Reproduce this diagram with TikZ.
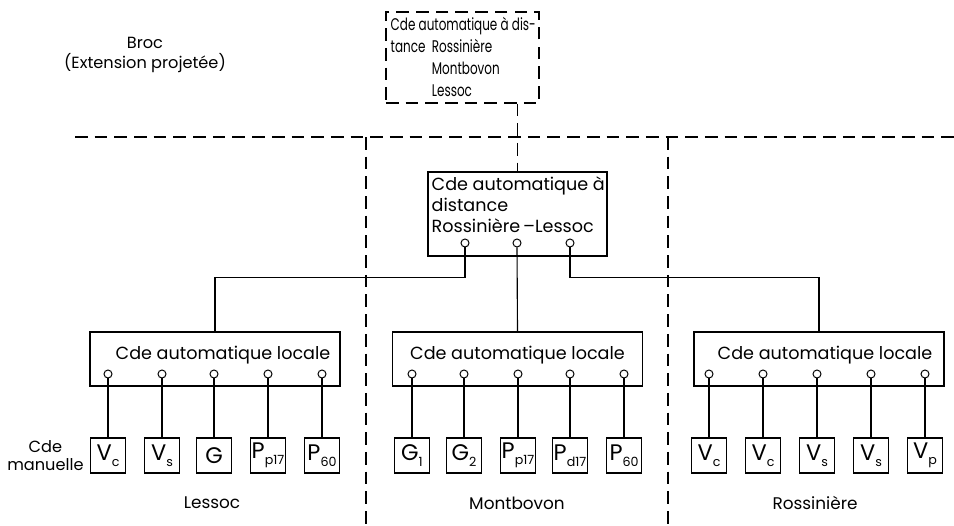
\documentclass[tikz,border=0pt]{standalone}
\usepackage{fontspec}
\setmainfont{Poppins}
\usetikzlibrary{positioning}
\newcommand{\lowidx}[1]{\raisebox{-.45ex}{\fontsize{9}{9}\selectfont #1}}
\begin{document}
\begin{tikzpicture}[x=0.025cm,y=-0.025cm, every node/.style={font=\fontsize{11.5}{14}\selectfont},
  ln/.style={line width=.8pt},
  dsh/.style={line width=.8pt,dash pattern=on 9pt off 5pt},
  bx/.style={draw,ln,inner sep=0pt,minimum width=.875cm,minimum height=.875cm,font=\fontsize{16}{16}\selectfont},
  loc/.style={draw,ln,minimum width=6.25cm,minimum height=1.35cm},
  pin/.style={draw,circle,fill=white,inner sep=0pt,minimum size=.2cm,line width=.7pt}]
  \useasboundingbox (0,0) rectangle (954,526);
  % remote control, planned extension
  \node[align=center] (broc) at (145,55) {Broc\\(Extension projetée)};
  \node[draw,dsh,minimum width=3.825cm,minimum height=2.275cm] (dist) at (462.5,57.5) {};
  \node[anchor=north west,inner sep=1pt,font=\fontsize{12}{15.5}\selectfont] (disttxt) at (389,14) {\scalebox{.71}[1]{\begin{tabular}{@{}l@{\ \ }l@{}}
    \multicolumn{2}{@{}l@{}}{Cde automatique à dis-}\\
    tance & Rossinière\\ & Montbovon\\ & Lessoc\end{tabular}}};
  % zone limits
  \coordinate (hl) at (75,137);
  \coordinate (hr) at (954,137);
  \coordinate (d1t) at (366,137);
  \coordinate (d1b) at (366,526);
  \coordinate (d2t) at (668,137);
  \coordinate (d2b) at (668,526);
  \draw[dsh] (hl) -- (hr);
  \draw[dsh] (d1t) -- (d1b);
  \draw[dsh] (d2t) -- (d2b);
  % central remote control
  \node[draw,ln,minimum width=4.475cm,minimum height=2.1cm] (cen) at (517.5,214) {};
  \node[anchor=north west,align=left,inner sep=1pt,font=\fontsize{12.5}{15}\selectfont] (centxt) at (430,175) {Cde automatique à\\distance\\Rossinière\,–Lessoc};
  \node[pin] (c1) at (465,243) {};
  \node[pin] (c2) at (517,243) {};
  \node[pin] (c3) at (570,243) {};
  \draw[dsh] (dist.south -| cen.north) -- (cen.north);
  % local control
  \node[loc] (locL) at (215,359) {};
  \node[loc] (locM) at (517.5,359) {};
  \node[loc] (locR) at (819,359) {};
  \node[font=\fontsize{12.5}{14}\selectfont] (txtL) at (223,355) {Cde automatique locale};
  \node[font=\fontsize{12.5}{14}\selectfont] (txtM) at (517.5,355) {Cde automatique locale};
  \node[font=\fontsize{12.5}{14}\selectfont] (txtR) at (825,355) {Cde automatique locale};
  \draw[ln] (c1.south) -- ++(0,30) -| (locL.north);
  \draw[ln] (c2.south) -- (locM.north);
  \draw[ln] (c3.south) -- ++(0,30) -| (locR.north);
  % manual control
  \foreach \x/\t/\n in {108/V\lowidx{c}/l1,162/V\lowidx{s}/l2,214/G/l3,268/P\lowidx{p17}/l4,322/P\lowidx{60}/l5,
      412/G\lowidx{1}/m1,464/G\lowidx{2}/m2,518/P\lowidx{p17}/m3,570/P\lowidx{d17}/m4,624/P\lowidx{60}/m5,
      709/V\lowidx{c}/r1,763/V\lowidx{c}/r2,817/V\lowidx{s}/r3,871/V\lowidx{s}/r4,925/V\lowidx{p}/r5}{
    \node[pin] (p\n) at (\x,374) {};
    \node[bx] (b\n) at (\x,455.5) {\t};
    \draw[ln] (p\n.south) -- (b\n.north);
  }
  \node[align=center,left=1pt of bl1,font=\fontsize{11.5}{12.5}\selectfont] (man) {Cde\\manuelle};
  % stations
  \node[font=\fontsize{12}{14}\selectfont] (lessoc) at (212,503) {Lessoc};
  \node[font=\fontsize{12}{14}\selectfont] (montbovon) at (517,503) {Montbovon};
  \node[font=\fontsize{12}{14}\selectfont] (rossiniere) at (815,503) {Rossinière};
\end{tikzpicture}
\end{document}
